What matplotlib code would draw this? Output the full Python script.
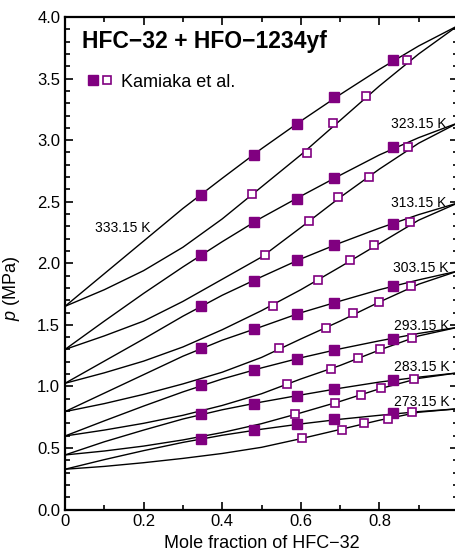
import matplotlib
matplotlib.use("Agg")
import matplotlib.pyplot as plt
from matplotlib.legend_handler import HandlerTuple
from matplotlib.ticker import MultipleLocator

plt.rcParams['font.family'] = ['Liberation Sans', 'DejaVu Sans']
plt.rcParams['mathtext.fontset'] = 'custom'
plt.rcParams['mathtext.it'] = 'Liberation Sans:italic'
plt.rcParams['mathtext.rm'] = 'Liberation Sans'

# temperatures (K)
temps = ['333.15 K', '323.15 K', '313.15 K', '303.15 K', '293.15 K', '283.15 K', '273.15 K']

# calculated bubble / dew curves, read at x = 0, 0.1, ..., 1.0
x_curve = [0.0, 0.1, 0.2, 0.3, 0.4, 0.5, 0.6, 0.7, 0.8, 0.9, 1.0]

bub_333 = [1.65, 1.915, 2.18, 2.445, 2.69, 2.93, 3.155, 3.37, 3.575, 3.765, 3.93]
dew_333 = [1.65, 1.785, 1.94, 2.13, 2.36, 2.62, 2.88, 3.16, 3.44, 3.70, 3.93]
bub_323 = [1.30, 1.53, 1.755, 1.97, 2.175, 2.37, 2.545, 2.715, 2.88, 3.02, 3.14]
dew_323 = [1.30, 1.41, 1.53, 1.69, 1.87, 2.05, 2.29, 2.535, 2.765, 2.975, 3.14]
bub_313 = [1.025, 1.205, 1.385, 1.57, 1.74, 1.89, 2.035, 2.165, 2.285, 2.395, 2.49]
dew_313 = [1.025, 1.11, 1.205, 1.32, 1.46, 1.615, 1.785, 1.97, 2.16, 2.35, 2.49]
bub_303 = [0.795, 0.945, 1.095, 1.245, 1.375, 1.485, 1.598, 1.693, 1.785, 1.865, 1.937]
dew_303 = [0.795, 0.86, 0.935, 1.02, 1.115, 1.235, 1.385, 1.53, 1.685, 1.83, 1.937]
bub_293 = [0.597, 0.72, 0.84, 0.955, 1.06, 1.15, 1.232, 1.305, 1.37, 1.43, 1.48]
dew_293 = [0.597, 0.645, 0.70, 0.765, 0.845, 0.94, 1.06, 1.17, 1.295, 1.41, 1.48]
bub_283 = [0.443, 0.55, 0.645, 0.735, 0.81, 0.873, 0.93, 0.985, 1.035, 1.075, 1.11]
dew_283 = [0.443, 0.475, 0.515, 0.565, 0.625, 0.697, 0.785, 0.878, 0.98, 1.065, 1.11]
bub_273 = [0.327, 0.405, 0.478, 0.545, 0.603, 0.652, 0.695, 0.733, 0.765, 0.795, 0.818]
dew_273 = [0.327, 0.35, 0.38, 0.415, 0.455, 0.505, 0.575, 0.65, 0.725, 0.79, 0.818]

bub_curves = [bub_333, bub_323, bub_313, bub_303, bub_293, bub_283, bub_273]
dew_curves = [dew_333, dew_323, dew_313, dew_303, dew_293, dew_283, dew_273]

# Kamiaka et al. experimental points
x_bub = [0.345, 0.48, 0.59, 0.684, 0.835]
p_bub = [
    [2.557, 2.879, 3.133, 3.347, 3.647],
    [2.064, 2.335, 2.524, 2.692, 2.941],
    [1.653, 1.859, 2.024, 2.145, 2.321],
    [1.310, 1.469, 1.588, 1.678, 1.813],
    [1.010, 1.136, 1.226, 1.293, 1.388],
    [0.776, 0.860, 0.925, 0.979, 1.050],
    [0.576, 0.645, 0.692, 0.736, 0.785],
]
x_dew = [
    [0.477, 0.616, 0.681, 0.767, 0.870],
    [0.510, 0.620, 0.695, 0.774, 0.874],
    [0.530, 0.645, 0.726, 0.785, 0.878],
    [0.544, 0.664, 0.734, 0.798, 0.881],
    [0.565, 0.677, 0.746, 0.802, 0.884],
    [0.586, 0.688, 0.753, 0.804, 0.887],
    [0.602, 0.705, 0.760, 0.823, 0.884],
]
p_dew = [
    [2.560, 2.895, 3.139, 3.355, 3.647],
    [2.070, 2.340, 2.535, 2.700, 2.941],
    [1.656, 1.867, 2.024, 2.151, 2.332],
    [1.312, 1.472, 1.594, 1.683, 1.818],
    [1.018, 1.142, 1.228, 1.304, 1.396],
    [0.775, 0.866, 0.933, 0.988, 1.061],
    [0.580, 0.649, 0.700, 0.731, 0.790],
]

purple = '#800080'

fig = plt.figure(figsize=(4.56, 5.53), dpi=100)
ax = fig.add_axes([65 / 456, 43.5 / 553, 393 / 456, 492.5 / 553])

for b, d in zip(bub_curves, dew_curves):
    ax.plot(x_curve, b, color='black', lw=1.0, zorder=2)
    ax.plot(x_curve, d, color='black', lw=1.0, zorder=2)

for i in range(len(temps)):
    hf, = ax.plot(x_bub, p_bub[i], 's', color=purple, ms=6.5, mec=purple, zorder=3)
    ho, = ax.plot(x_dew[i], p_dew[i], 's', mfc='white', mec=purple, mew=1.2, ms=6.3, zorder=3)

# temperature labels
label_pos = [(0.077, 2.29), (0.83, 3.13), (0.83, 2.49), (0.835, 1.96),
             (0.837, 1.49), (0.837, 1.16), (0.837, 0.87)]
for t, (lx, ly) in zip(temps, label_pos):
    ax.text(lx, ly, t, fontsize=10, ha='left', va='center', zorder=4)

ax.text(0.042, 3.80, 'HFC\u221232 + HFO\u22121234yf', fontsize=16.5, fontweight='bold',
        ha='left', va='center')

ax.legend([(hf, ho)], ['Kamiaka et al.'], handler_map={tuple: HandlerTuple(ndivide=None, pad=0.25)},
          loc='upper left', bbox_to_anchor=(0.061, 0.885), frameon=False, fontsize=13,
          handlelength=1.25, handletextpad=0.5, borderpad=0, borderaxespad=0)

ax.set_xlim(0, 1)
ax.set_ylim(0, 4)
ax.set_xticks([0, 0.2, 0.4, 0.6, 0.8])
ax.set_xticklabels(['0', '0.2', '0.4', '0.6', '0.8'])
ax.xaxis.set_minor_locator(MultipleLocator(0.1))
ax.set_yticks([0, 0.5, 1.0, 1.5, 2.0, 2.5, 3.0, 3.5, 4.0])
ax.set_yticklabels(['0.0', '0.5', '1.0', '1.5', '2.0', '2.5', '3.0', '3.5', '4.0'])
ax.yaxis.set_minor_locator(MultipleLocator(0.1))
ax.tick_params(which='both', direction='in', top=True, right=True, labelsize=12, width=1.2)
ax.tick_params(which='major', length=6)
ax.tick_params(which='minor', length=3.5)
for s in ax.spines.values():
    s.set_linewidth(1.6)

ax.set_xlabel('Mole fraction of HFC\u221232', fontsize=13, labelpad=4)
ax.set_ylabel('$p$ (MPa)', fontsize=13)
ax.yaxis.set_label_coords(-0.11, 0.45)

fig.savefig('out.png', dpi=100)
